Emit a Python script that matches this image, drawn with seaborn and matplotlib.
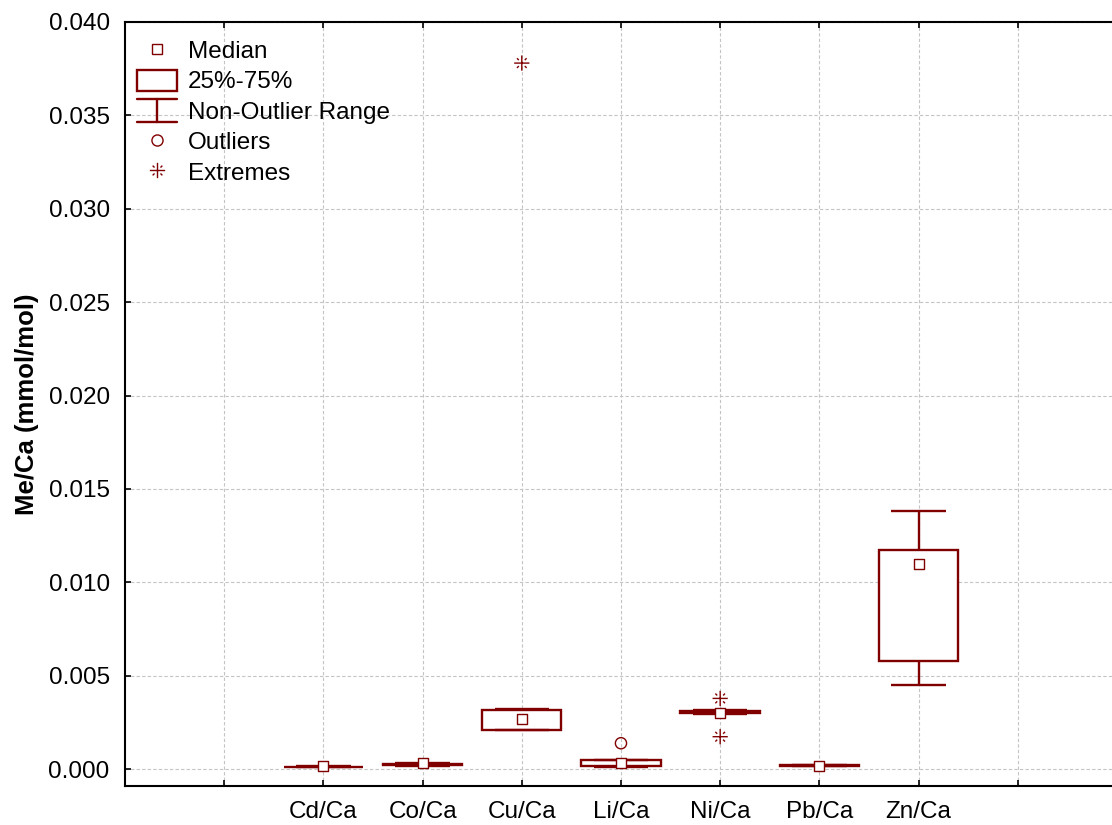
import numpy as np
import pandas as pd
import matplotlib
matplotlib.use("Agg")
import matplotlib.pyplot as plt
from matplotlib.path import Path
from matplotlib.lines import Line2D
from matplotlib.patches import Rectangle
from matplotlib.legend_handler import HandlerBase
import seaborn as sns

# ---- summary statistics (mmol/mol) ----
categories = ["Cd/Ca", "Co/Ca", "Cu/Ca", "Li/Ca", "Ni/Ca", "Pb/Ca", "Zn/Ca"]
medians = [0.00015, 0.00030, 0.00268, 0.00033, 0.00302, 0.00018, 0.01098]
q1 = [0.00011, 0.00021, 0.00209, 0.00017, 0.00299, 0.00016, 0.00580]
q3 = [0.00013, 0.00029, 0.00316, 0.00048, 0.00312, 0.00019, 0.01173]
whisker_lo = [0.00010, 0.00018, 0.00209, 0.00013, 0.00297, 0.00015, 0.00451]
whisker_hi = [0.00014, 0.00033, 0.00321, 0.00048, 0.00314, 0.00020, 0.01381]

outlier_cat = ["Li/Ca"]
outlier_val = [0.00138]
extreme_cat = ["Cu/Ca", "Ni/Ca", "Ni/Ca"]
extreme_val = [0.0378, 0.00378, 0.00173]

y_ticks = [0.000, 0.005, 0.010, 0.015, 0.020, 0.025, 0.030, 0.035, 0.040]

MAROON = "#800000"
FS = 17.5
LW = 1.7

sns.set_theme(style="white")
plt.rcParams["font.family"] = ["Liberation Sans", "DejaVu Sans"]
plt.rcParams.update({"text.color": "black", "axes.labelcolor": "black",
                     "xtick.color": "black", "ytick.color": "black"})

pos = {c: i + 1 for i, c in enumerate(categories)}

fig = plt.figure(figsize=(11.12, 8.25), dpi=100)
ax = fig.add_axes([125 / 1112, 1 - 786 / 825, 1 - 125 / 1112, (786 - 22) / 825])

# boxes + whiskers from precomputed statistics
stats = [
    dict(med=m, q1=a, q3=b, whislo=lo, whishi=hi, fliers=[], label=c)
    for c, m, a, b, lo, hi in zip(categories, medians, q1, q3, whisker_lo, whisker_hi)
]
line_kw = dict(color=MAROON, linewidth=LW, solid_capstyle="butt")
ax.bxp(
    stats,
    positions=[pos[c] for c in categories],
    widths=0.8,
    showfliers=False,
    patch_artist=True,
    boxprops=dict(facecolor="white", edgecolor=MAROON, linewidth=LW),
    whiskerprops=line_kw,
    capprops=line_kw,
    medianprops=dict(linewidth=0),
    capwidths=0.55,
    manage_ticks=False,
    zorder=3,
)

# median squares
df_med = pd.DataFrame({"x": [pos[c] for c in categories], "y": medians})
sns.scatterplot(data=df_med, x="x", y="y", marker="s", s=62, facecolor="white",
                edgecolor=MAROON, linewidth=1.0, zorder=5, ax=ax)

# outliers
df_out = pd.DataFrame({"x": [pos[c] for c in outlier_cat], "y": outlier_val})
sns.scatterplot(data=df_out, x="x", y="y", marker="o", s=65, facecolor="none",
                edgecolor=MAROON, linewidth=1.0, zorder=5, ax=ax)

# extreme-value marker: a plus with short broken diagonals
r1, r2 = 0.55, 0.9
d1, d2 = r1 / np.sqrt(2), r2 / np.sqrt(2)
verts = [(-1, 0), (1, 0), (0, -1), (0, 1)]
codes = [Path.MOVETO, Path.LINETO, Path.MOVETO, Path.LINETO]
for sx, sy in [(1, 1), (-1, 1), (1, -1), (-1, -1)]:
    verts += [(sx * d1, sy * d1), (sx * d2, sy * d2)]
    codes += [Path.MOVETO, Path.LINETO]
extreme_marker = Path(verts, codes)

df_ext = pd.DataFrame({"x": [pos[c] for c in extreme_cat], "y": extreme_val})
sns.scatterplot(data=df_ext, x="x", y="y", marker=extreme_marker, s=120,
                facecolor="none", edgecolor=MAROON, linewidth=1.0, zorder=5, ax=ax)

# axes, ticks, grid
ax.set_xlim(-1, 8.95)
ax.set_ylim(-0.00091, 0.040)
ax.set_xticks(range(0, 9))
ax.set_xticklabels([""] + categories + [""])
ax.set_yticks(y_ticks)
ax.set_yticklabels([f"{v:.3f}" for v in y_ticks])
ax.set_xlabel("")
ax.set_ylabel("Me/Ca (mmol/mol)", fontsize=18.5, fontweight="bold", labelpad=7)
ax.tick_params(axis="both", direction="in", length=4, width=1.2, colors="black",
               labelsize=FS, top=True, left=True, bottom=True, right=False)
ax.tick_params(axis="y", pad=11)
ax.tick_params(axis="x", pad=11)
ax.grid(True, color="#c4c4c4", linestyle=(0, (3, 2)), linewidth=0.8, zorder=0)
ax.set_axisbelow(True)
for side in ["left", "bottom", "top"]:
    ax.spines[side].set_visible(True)
    ax.spines[side].set_color("black")
    ax.spines[side].set_linewidth(1.5)
ax.spines["right"].set_visible(False)


# legend handlers
class BoxKey:
    pass


class RangeKey:
    pass


class BoxHandler(HandlerBase):
    def create_artists(self, legend, orig, xd, yd, w, h, fontsize, trans):
        r = Rectangle((-xd, -yd), w, h, facecolor="white",
                      edgecolor=MAROON, linewidth=LW, transform=trans)
        return [r]


class RangeHandler(HandlerBase):
    def create_artists(self, legend, orig, xd, yd, w, h, fontsize, trans):
        x0, x1 = -xd, -xd + w
        y0, y1 = -yd - 0.05 * h, -yd + 1.05 * h
        xm = (x0 + x1) / 2
        return [
            Line2D([x0, x1], [y0, y0], color=MAROON, lw=LW, transform=trans),
            Line2D([x0, x1], [y1, y1], color=MAROON, lw=LW, transform=trans),
            Line2D([xm, xm], [y0, y1], color=MAROON, lw=LW, transform=trans),
        ]


h_med = Line2D([], [], linestyle="none", marker="s", markersize=7.5,
               markerfacecolor="white", markeredgecolor=MAROON, markeredgewidth=1.0)
h_out = Line2D([], [], linestyle="none", marker="o", markersize=8,
               markerfacecolor="none", markeredgecolor=MAROON, markeredgewidth=1.0)
h_ext = Line2D([], [], linestyle="none", marker=extreme_marker, markersize=11,
               markerfacecolor="none", markeredgecolor=MAROON, markeredgewidth=1.0)

leg = ax.legend(
    [h_med, BoxKey(), RangeKey(), h_out, h_ext],
    ["Median", "25%-75%", "Non-Outlier Range", "Outliers", "Extremes"],
    handler_map={BoxKey: BoxHandler(), RangeKey: RangeHandler()},
    loc="upper left", bbox_to_anchor=(0, 1 - 5 / 764), frameon=False,
    fontsize=FS, handlelength=1.65, handleheight=0.95, handletextpad=0.45,
    labelspacing=0.27, borderpad=0.4, borderaxespad=0.1,
)

fig.savefig("out.png", dpi=100)
